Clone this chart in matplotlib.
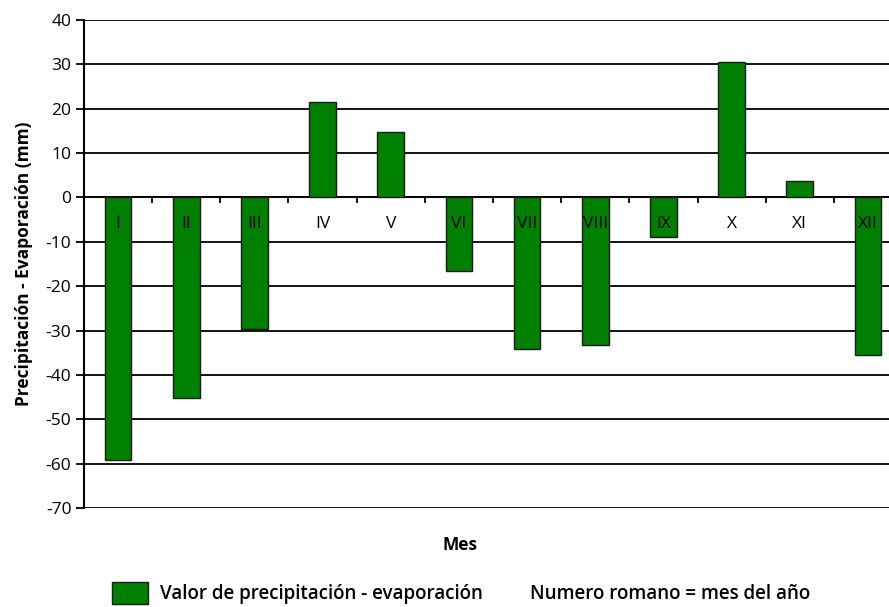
import numpy as np
from matplotlib import pyplot as plt
from matplotlib.patches import Rectangle

months = ["I", "II", "III", "IV", "V", "VI", "VII", "VIII", "IX", "X", "XI", "XII"]
values = [-59.2, -45.1, -29.7, 21.6, 14.7, -16.6, -34.1, -33.2, -8.9, 30.6, 3.6, -35.6]
y_ticks = [40, 30, 20, 10, 0, -10, -20, -30, -40, -50, -60, -70]

plt.rcParams['font.family'] = ['Open Sans', 'DejaVu Sans']

fig = plt.figure(figsize=(8.89, 6.07), dpi=100)
ax = fig.add_axes([84 / 889, 1 - 508 / 607, 818 / 889, 488 / 607])

x = np.arange(len(months))
ax.set_axisbelow(True)
ax.bar(x, values, width=0.39, color='#008000', edgecolor='#1a1a1a', linewidth=1.0, zorder=3)

ax.set_xlim(-0.5, 11.5)
ax.set_ylim(-70, 40)
ax.set_yticks(y_ticks)
ax.set_yticklabels([str(v) for v in y_ticks], fontsize=12.5)
ax.yaxis.grid(True, color='black', linewidth=1.3)
ax.tick_params(axis='y', direction='out', length=6, width=1.3, pad=3)

# x axis sits at zero, tick marks at category boundaries
ax.spines['bottom'].set_position(('data', 0))
ax.spines['bottom'].set_linewidth(1.3)
ax.spines['top'].set_visible(False)
ax.spines['right'].set_visible(False)
ax.spines['left'].set_linewidth(1.5)
ax.set_xticks(np.arange(-0.5, 12, 1.0))
ax.set_xticklabels([])
ax.tick_params(axis='x', direction='out', length=4, width=1.3)
for i, m in enumerate(months):
    ax.text(i, -6, m, ha='center', va='center', fontsize=12.5, zorder=4)

ax.set_ylabel("Precipitación - Evaporación (mm)", fontsize=12.5, fontweight='bold', labelpad=9)
fig.text(460 / 889, 1 - 545 / 607, "Mes", ha='center', va='center', fontsize=12.5, fontweight='bold')

# legend row
fig.patches.append(Rectangle((112 / 889, 1 - 604 / 607), 36 / 889, 22 / 607,
                             transform=fig.transFigure, facecolor='#008000',
                             edgecolor='#1a1a1a', linewidth=1.0))
fig.text(160 / 889, 1 - 594 / 607, "Valor de precipitación - evaporación", ha='left', va='center',
         fontsize=13.5, fontweight='semibold')
fig.text(530 / 889, 1 - 594 / 607, "Numero romano = mes del año", ha='left', va='center',
         fontsize=13.5, fontweight='semibold')

fig.savefig("out.png", dpi=100)
